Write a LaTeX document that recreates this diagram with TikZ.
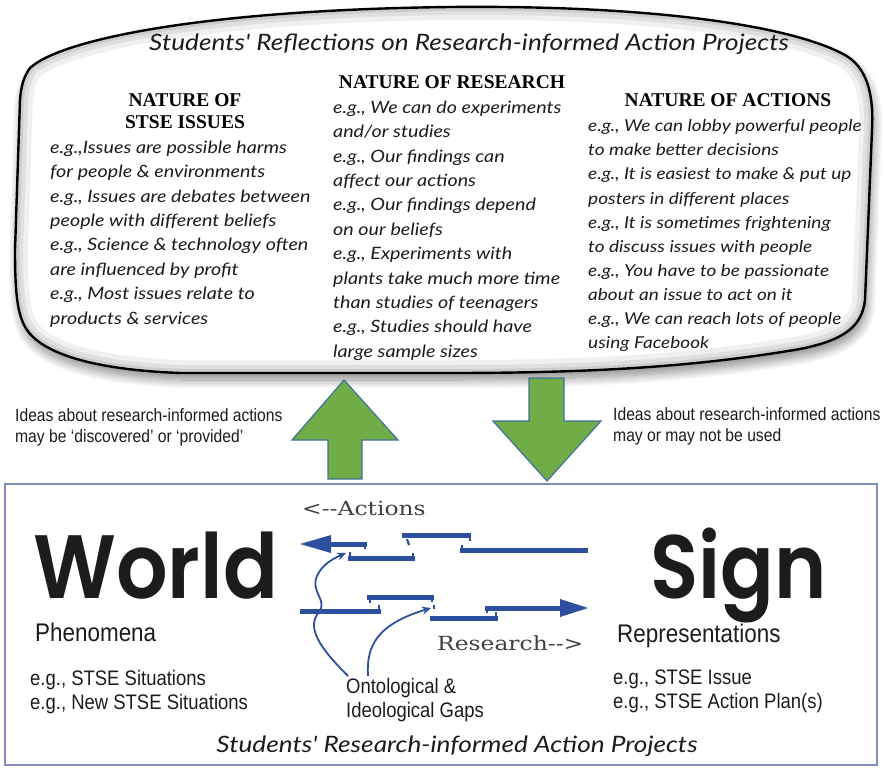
\documentclass[tikz,border=0pt]{standalone}
\usepackage{fontspec}
\setmainfont{Liberation Serif}
\newfontfamily\handfam[ItalicFont={Lato Italic},ItalicFeatures={FakeStretch=1.16}]{Lato}
\newfontfamily\narrowfam[FakeStretch=0.88]{Liberation Sans}
\newfontfamily\geofam{Poppins SemiBold}
\newfontfamily\plainserif[FakeStretch=1.2]{DejaVu Serif}
\usetikzlibrary{shadows.blur,arrows.meta}

\definecolor{barblue}{RGB}{44,80,158}
\definecolor{boxline}{RGB}{128,140,190}
\definecolor{leafgreen}{RGB}{112,173,71}
\definecolor{leafedge}{RGB}{65,113,156}
\definecolor{ink}{RGB}{28,28,28}

\tikzset{
  hand/.style={font=\handfam\itshape\fontsize{17}{24.4}\selectfont, text=ink, inner sep=0pt, align=left},
  handtitle/.style={font=\handfam\itshape\fontsize{22.6}{26}\selectfont, text=ink, inner sep=0pt},
  heading/.style={font=\bfseries\fontsize{19.5}{22}\selectfont, inner sep=0pt, align=center},
  note/.style={font=\narrowfam\fontsize{17.8}{21}\selectfont, text=ink, inner sep=0pt, align=left},
  label/.style={font=\narrowfam\fontsize{21}{24}\selectfont, text=ink, inner sep=0pt, align=left},
  bigword/.style={font=\geofam\fontsize{90}{90}\selectfont, text=ink, inner sep=0pt, text depth=0pt},
  subword/.style={font=\narrowfam\fontsize{25.5}{28}\selectfont, text=ink, inner sep=0pt},
  dirtext/.style={font=\plainserif\fontsize{19.5}{22}\selectfont, text=black!75, inner sep=0pt},
  greenarrow/.style={fill=leafgreen, draw=leafedge, line width=1.2pt, line join=miter},
  bar/.style={draw=barblue, line width=5pt},
  tick/.style={draw=barblue, line width=2.2pt},
  gaparrow/.style={draw=barblue, line width=1.8pt, -{Stealth[length=9pt,width=8pt]}},
}

\begin{document}
\begin{tikzpicture}[x=1pt,y=-1pt]
\useasboundingbox (0,0) rectangle (885,768);

% ---------- reflection cloud ----------
\def\cloudpath{(30,68) .. controls (60,40) and (200,10) .. (450,7)
  .. controls (650,5) and (790,25) .. (845,55)
  .. controls (866,67) and (874,92) .. (872,130)
  -- (865,300) .. controls (862,326) and (845,340) .. (800,349)
  .. controls (700,366) and (600,373) .. (450,373)
  -- (180,373) .. controls (100,370) and (52,356) .. (32,336)
  .. controls (18,322) and (15,300) .. (15,250)
  -- (20,100) .. controls (21,86) and (24,76) .. (30,68) -- cycle}

\fill[white, blur shadow={shadow xshift=2pt, shadow yshift=-7pt, shadow blur steps=12, shadow opacity=45, shadow blur radius=9pt}] \cloudpath;
\begin{scope}
  \clip \cloudpath;
  \draw[black, opacity=0.06, line width=26pt] \cloudpath;
  \draw[black, opacity=0.07, line width=16pt] \cloudpath;
  \draw[black, opacity=0.08, line width=8pt] \cloudpath;
\end{scope}
\draw[black, line width=2.4pt, line join=round] \cloudpath;

\node[handtitle, anchor=base] (cloudtitle) at (469,51)
  {Students' Reflections on Research-informed Action Projects};

\node[heading, anchor=north] (issueshead) at (185,93) {NATURE OF\\STSE ISSUES};
\node[heading, anchor=north] (researchhead) at (452,75) {NATURE OF RESEARCH};
\node[heading, anchor=north] (actionshead) at (728,93) {NATURE OF ACTIONS};

\node[hand, anchor=north west] (issues) at (50,140.5) {%
e.g.,Issues are possible harms\\
for people \& environments\\
e.g., Issues are debates between\\
people with different beliefs\\
e.g., Science \& technology often\\
are influenced by profit\\
e.g., Most issues relate to\\
products \& services};

\node[hand, anchor=north west] (research) at (333,100.5) {%
e.g., We can do experiments\\
and/or studies\\
e.g., Our findings can\\
affect our actions\\
e.g., Our findings depend\\
on our beliefs\\
e.g., Experiments with\\
plants take much more time\\
than studies of teenagers\\
e.g., Studies should have\\
large sample sizes};

\node[hand, anchor=north west, font=\handfam\itshape\fontsize{16.4}{24.1}\selectfont] (actions) at (588,119.5) {%
e.g., We can lobby powerful people\\
to make better decisions\\
e.g., It is easiest to make \& put up\\
posters in different places\\
e.g., It is sometimes frightening\\
to discuss issues with people\\
e.g., You have to be passionate\\
about an issue to act on it\\
e.g., We can reach lots of people\\
using Facebook};

% ---------- exchange between the two levels ----------
\path[greenarrow] (328,479) -- (328,440) -- (292,440) -- (344,380)
  -- (398,440) -- (362,440) -- (362,479) -- cycle;
\path[greenarrow] (529,378) -- (564,378) -- (564,421) -- (601,421)
  -- (547,481) -- (493,421) -- (529,421) -- cycle;

\node[note, anchor=north west] (discovered) at (15,408)
  {Ideas about research-informed actions\\may be ‘discovered’ or ‘provided’};
\node[note, anchor=north west] (used) at (613,407)
  {Ideas about research-informed actions\\may or may not be used};

% ---------- action project frame ----------
\draw[boxline, line width=2pt] (5,484) rectangle (877,765);

\node[bigword, anchor=base west] (world) at (33,598) {\scalebox{0.9}[1]{World}};
\node[bigword, anchor=base west] (sign) at (650,598) {\scalebox{0.88}[1]{Sign}};
\node[subword, anchor=base west] (phenomena) at (35,641) {Phenomena};
\node[subword, anchor=base west] (representations) at (617,642) {Representations};

\node[label, anchor=north west] (worldeg) at (30,670)
  {e.g., STSE Situations\\e.g., New STSE Situations};
\node[label, anchor=north west] (signeg) at (613,670)
  {e.g., STSE Issue\\e.g., STSE Action Plan(s)};
\node[label, anchor=north west] (gaps) at (346,678)
  {Ontological \&\\Ideological Gaps};

\node[dirtext, anchor=base west] (actionsdir) at (302,515) {<-{}-Actions};
\node[dirtext, anchor=base west] (researchdir) at (437,650) {Research-{}->};

% actions path, broken into offset pieces (right to left)
\draw[bar] (588,550) -- (460,550);
\draw[tick] (462,551) -- (462,545);
\draw[bar] (471,535) -- (402,535);
\draw[tick] (470,534) -- (470,541);
\draw[tick] (407,539) -- (409,545);
\draw[bar] (415,558) -- (348,558);
\draw[tick] (350,559) -- (350,552);
\draw[tick] (413,559) -- (413,553);
\draw[bar] (367,544) -- (328,544);
\draw[tick] (365,543) -- (365,549);
\fill[barblue] (300,544) -- (331,535) -- (331,553) -- cycle;

% research path, broken into offset pieces (left to right)
\draw[bar] (300,611) -- (381,611);
\draw[tick] (379,612) -- (379,605);
\draw[bar] (367,597) -- (434,597);
\draw[tick] (370,596) -- (370,603);
\draw[tick] (432,596) -- (432,602);
\draw[tick] (434,605) -- (434,609);
\draw[bar] (430,618) -- (498,618);
\draw[tick] (496,619) -- (496,612);
\draw[bar] (485,608) -- (562,608);
\draw[tick] (487,607) -- (487,613);
\fill[barblue] (588,608) -- (560,599) -- (560,617) -- cycle;

\coordinate (actiongap) at (346,553);
\coordinate (researchgap) at (431,608);
\draw[gaparrow] (gaps.north west) ++(2,-2) .. controls (322,650) and (305,628) .. (319,612)
  .. controls (328,600) and (310,592) .. (317,576)
  .. controls (322,565) and (332,559) .. (actiongap);
\draw[gaparrow] (368,676) .. controls (366,645) and (378,624) .. (researchgap);

\node[handtitle, anchor=base] (projecttitle) at (457,752)
  {Students' Research-informed Action Projects};
\end{tikzpicture}
\end{document}
